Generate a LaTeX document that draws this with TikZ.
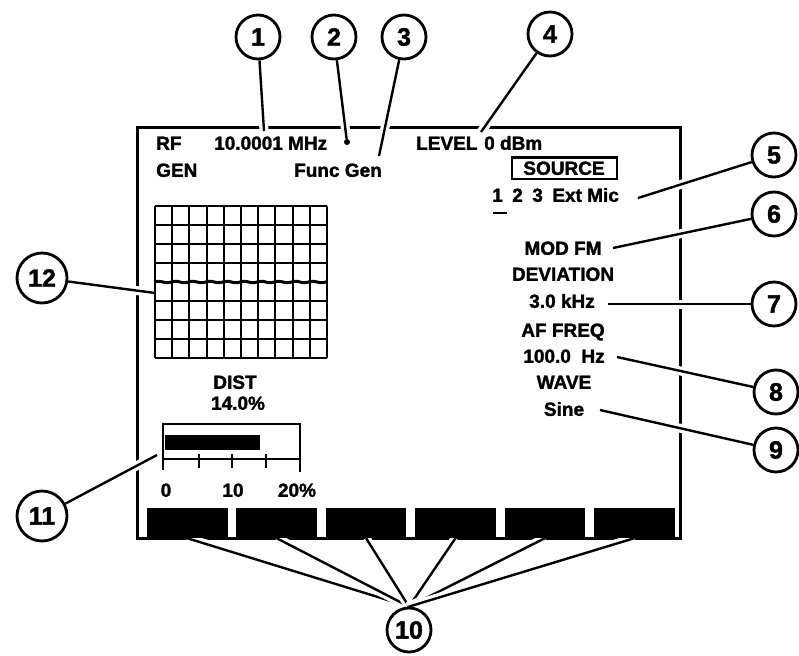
\documentclass[tikz,border=0pt]{standalone}
\usepackage{fontspec}
\setmainfont{Liberation Sans}[BoldFeatures={FakeBold=1.6}]

\pgfdeclarelayer{back}
\pgfdeclarelayer{lead}
\pgfsetlayers{back,lead,main}

\begin{document}
\begin{tikzpicture}[x=1pt, y=-1pt,
    lbl/.style={inner sep=0pt, font=\fontsize{19}{19}\selectfont\bfseries, text height=13.6pt, text depth=0pt},
    callout/.style={draw, circle, line width=2.8pt, minimum size=44pt, inner sep=0pt, font=\fontsize{25}{25}\selectfont\bfseries},
    bigcallout/.style={callout, minimum size=50pt},
    leader/.style={line width=2.4pt, preaction={draw=white, line width=9pt}},
    softkey/.style={fill=black, inner sep=0pt, minimum width=80.5pt, minimum height=30pt}]
\useasboundingbox (0,0) rectangle (799,655);

% screen frame
\begin{pgfonlayer}{back}
\draw[line width=3pt] (137,128) rectangle (680,538);
\end{pgfonlayer}

% screen texts
\node[lbl, anchor=west] (rf) at (156,143) {RF};
\node[lbl, anchor=west] (gen) at (156,170) {GEN};
\node[lbl, anchor=west] (freq) at (214,143) {10.0001 MHz};
\node[circle, fill, inner sep=0pt, minimum size=6pt] (dot) at (347,142) {};
\node[lbl, anchor=west] (level) at (416,143) {LEVEL};
\node[lbl, anchor=west] (dbm) at (484,143) {0 dBm};
\node[lbl] (func) at (338,170) {Func Gen};
\node[lbl, draw, line width=2pt, minimum width=105pt, minimum height=21pt, text height=13.6pt] (source) at (564,168) {SOURCE};
\node[lbl, anchor=west] (srcsel) at (492,195) {1\enspace 2\enspace 3\enspace Ext Mic};
\draw[line width=2pt] (493,213) -- (507,213);
\node[lbl] (mod) at (563,248) {MOD FM};
\node[lbl] (devlbl) at (563,274) {DEVIATION};
\node[lbl] (dev) at (562,301) {3.0 kHz};
\node[lbl] (aflbl) at (563,330) {AF FREQ};
\node[lbl] (af) at (564,356) {100.0\ \ Hz};
\node[lbl] (wavelbl) at (564,382) {WAVE};
\node[lbl] (wave) at (564,409) {Sine};

% scope grid with trace
\foreach \i in {0,...,10}
  \draw[line width=1.9pt] (155+\i*17.2,206) -- (155+\i*17.2,358);
\foreach \j in {0,...,8}
  \draw[line width=1.9pt] (155,206+\j*19) -- (327,206+\j*19);
\draw[line width=3pt, domain=155:327, samples=120] plot (\x, {282-0.7*sin(\x*21)});

% distortion meter
\node[lbl] (distlbl) at (235,382) {DIST};
\node[lbl] (dist) at (238,403) {14.0\%};
\draw[line width=2pt] (163,470) -- (163,424) -- (300,424) -- (300,472);
\draw[line width=2pt] (163,459) -- (300,459);
\foreach \t in {198.5,232,265.5}
  \draw[line width=2pt] (\t,454) -- (\t,468);
\fill (165,435) rectangle (260,450);
\node[lbl] (s0) at (166,490) {0};
\node[lbl] (s10) at (233,490) {10};
\node[lbl] (s20) at (297,490) {20\%};

% softkeys
\foreach \i in {1,...,6}
  \node[softkey] (k\i) at (187.25+\i*89.4-89.4,523) {};

% callouts
\node[callout] (c1) at (258,37) {1};
\node[callout] (c2) at (334,37) {2};
\node[callout] (c3) at (404,37) {3};
\node[callout] (c4) at (550,34) {4};
\node[callout] (c5) at (774,155) {5};
\node[callout] (c6) at (774,214) {6};
\node[callout] (c7) at (774,304) {7};
\node[callout] (c8) at (776,392) {8};
\node[callout] (c9) at (776,450) {9};
\node[callout] (c10) at (409,630) {10};
\node[bigcallout] (c11) at (42,516) {11};
\node[bigcallout] (c12) at (42,278) {12};

\coordinate (p1) at (264,131);
\coordinate (p3) at (379,156);
\coordinate (p4) at (481,132);
\coordinate (p5) at (638,198);
\coordinate (p6) at (613,248);
\coordinate (p7) at (608,304);
\coordinate (p8) at (617,357);
\coordinate (p9) at (600,410);
\coordinate (p11) at (157,455);
\coordinate (p12) at (155,293);

\begin{pgfonlayer}{lead}
\draw[leader] (c1) -- (p1);
\draw[leader] (c2) -- (dot);
\draw[leader] (c3) -- (p3);
\draw[leader] (c4) -- (p4);
\draw[leader] (c5) -- (p5);
\draw[leader] (c6) -- (p6);
\draw[leader] (c7) -- (p7);
\draw[leader] (c8) -- (p8);
\draw[leader] (c9) -- (p9);
\draw[leader] (c11) -- (p11);
\draw[leader] (c12) -- (p12);
\foreach \i in {1,...,6}
  \draw[leader] (c10.north) -- (k\i.south);
\end{pgfonlayer}
\end{tikzpicture}
\end{document}
